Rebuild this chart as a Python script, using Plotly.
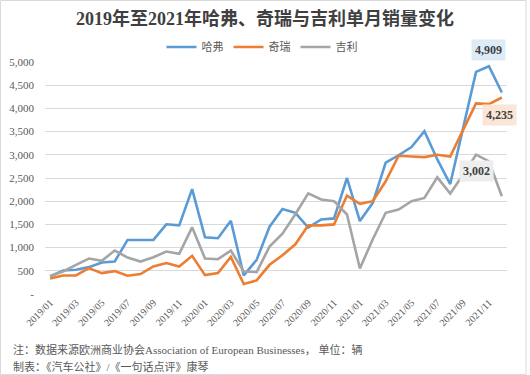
import plotly.graph_objects as go

months = [f"{y}/{m:02d}" for y in (2019, 2020, 2021) for m in range(1, 13)]

haval = [378, 507, 521, 579, 678, 700, 1165, 1165, 1165, 1502, 1480, 2260,
         1223, 1202, 1580, 400, 736, 1451, 1833, 1750, 1430, 1607, 1629, 2500,
         1571, 1964, 2830, 2990, 3165, 3510, 2900, 2370, 3560, 4786, 4909, 4343]
chery = [335, 400, 400, 558, 450, 493, 393, 429, 593, 668, 593, 822,
         407, 450, 800, 214, 292, 629, 835, 1071, 1479, 1479, 1500, 2121,
         1943, 2000, 2429, 2979, 2964, 2950, 3000, 2964, 3536, 4107, 4093, 4235]
geely = [390, 486, 629, 764, 715, 936, 786, 700, 793, 914, 865, 1437,
         764, 750, 936, 486, 472, 1022, 1300, 1720, 2170, 2036, 2000, 1714,
         550, 1179, 1750, 1821, 2000, 2071, 2514, 2164, 2571, 3002, 2857, 2107]

series_names = ["哈弗", "奇瑞", "吉利"]
colors = ["#5B9BD5", "#ED7D31", "#A5A5A5"]

y_ticks = [0, 500, 1000, 1500, 2000, 2500, 3000, 3500, 4000, 4500, 5000]
y_ticktext = ["-"] + [f"{v:,}" for v in y_ticks[1:]]

title_text = "2019年至2021年哈弗、奇瑞与吉利单月销量变化"
note1 = "注：数据来源欧洲商业协会Association of European Businesses， 单位：辆"
note2 = "制表：《汽车公社》/《一句话点评》康琴"

SERIF = "Liberation Serif, Times New Roman, Noto Sans CJK SC, serif"
GREY = "#595959"

fig = go.Figure()
for name, vals, col in zip(series_names, [haval, chery, geely], colors):
    fig.add_trace(go.Scatter(x=months, y=vals, mode="lines", name=name,
                             line=dict(color=col, width=2.6)))

W, H = 530, 375
ml, mr, mt, mb = 45, 23, 62, 81
pw, ph = W - ml - mr, H - mt - mb

def px_to_paper_x(px):
    return (px - ml) / pw

def px_to_paper_y(py):
    return 1 - (py - mt) / ph

fig.update_layout(
    width=W, height=H,
    margin=dict(l=ml, r=mr, t=mt, b=mb, autoexpand=False),
    paper_bgcolor="white", plot_bgcolor="white",
    title=dict(text=f"<b>{title_text}</b>", x=0.5, xanchor="center",
               y=1 - 19 / H, yanchor="middle", xref="container", yref="container",
               font=dict(family=SERIF, size=18, color="#404040")),
    legend=dict(orientation="h", xref="paper", yref="paper",
                x=px_to_paper_x(262), xanchor="center",
                y=px_to_paper_y(47), yanchor="middle",
                font=dict(family=SERIF, size=11, color=GREY),
                itemwidth=30, tracegroupgap=0, bgcolor="rgba(0,0,0,0)"),
    showlegend=True,
)

fig.update_yaxes(range=[0, 5000], tickvals=y_ticks, ticktext=y_ticktext,
                 showgrid=True, gridcolor="#D9D9D9", gridwidth=1,
                 zeroline=False, showline=False, ticks="", automargin=False,
                 ticklabelstandoff=10,
                 tickfont=dict(family=SERIF, size=11, color=GREY))
fig.update_xaxes(type="category", categoryarray=months, range=[-0.4, 35.4],
                 tickmode="array", tickvals=months[::2], ticktext=months[::2],
                 tickangle=-45, showgrid=False, zeroline=False, showline=False,
                 ticks="", automargin=False,
                 tickfont=dict(family=SERIF, size=10, color=GREY))

# data labels
labels = [
    (months[34], haval[34], "#DDEBF7", 0, 16),
    (months[35], chery[35], "#FBE5D6", -2, -17),
    (months[33], geely[33], "#EDEDED", 0, -16),
]
for xv, yv, bg, xs, ys in labels:
    fig.add_annotation(x=xv, y=yv, text=f"<b>{yv:,}</b>", showarrow=False,
                       xshift=xs, yshift=ys, bgcolor=bg, borderpad=3,
                       font=dict(family=SERIF, size=12, color="#404040"))

# footnotes
fig.add_annotation(xref="paper", yref="paper", x=px_to_paper_x(11), y=px_to_paper_y(349),
                   xanchor="left", yanchor="middle", showarrow=False, text=note1,
                   font=dict(family=SERIF, size=11, color=GREY))
fig.add_annotation(xref="paper", yref="paper", x=px_to_paper_x(11), y=px_to_paper_y(366),
                   xanchor="left", yanchor="middle", showarrow=False, text=note2,
                   font=dict(family=SERIF, size=11, color=GREY))

# chart border
fig.add_shape(type="rect", xref="paper", yref="paper",
              x0=px_to_paper_x(0.5), x1=px_to_paper_x(526),
              y0=px_to_paper_y(374.5), y1=px_to_paper_y(0.5),
              line=dict(color="#D9D9D9", width=1), layer="below")

fig.write_html("out.html", config={"displayModeBar": False},
               post_script="document.body.style.margin='0';document.body.style.overflow='hidden';")
